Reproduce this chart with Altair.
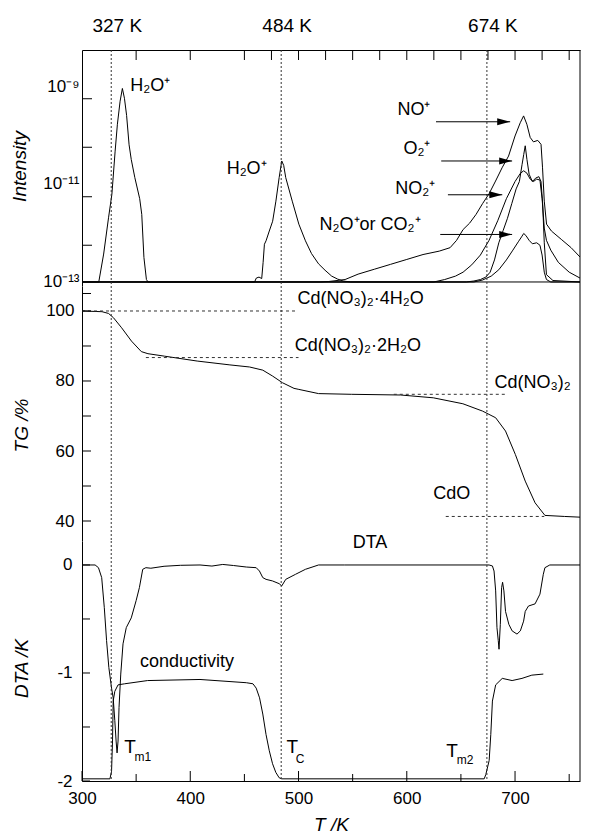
import altair as alt
import pandas as pd

FONT = "Liberation Sans"

# ---------------- data ----------------
# Mass-spec intensities: T (K) and log10(intensity)
h2o_T = [300, 315.5, 320, 324.5, 327.6, 330.6, 332.7, 335.2, 337.3, 339.2, 341.2, 343.5, 345.5, 348.8,
         353.3, 355.2, 357.2, 359.5, 361, 459.4, 461, 463.5, 466, 467.3, 468.5, 470, 473, 476.1, 479.1,
         482.1, 484.5, 486.3, 488.2, 494.2, 500.3, 506.4, 512, 518.5, 524.5, 530.6, 536, 541.2, 548, 760]
h2o_logI = [-13, -13, -12.43, -11.69, -11.21, -10.33, -9.78, -9.31, -9.05, -9.25, -9.6, -10.2, -10.5, -10.87,
            -11.3, -11.62, -12.5, -12.95, -13, -13, -12.92, -12.9, -12.93, -12.6, -12.23, -12.16, -11.96, -11.76, -11.35,
            -10.87, -10.53, -10.62, -10.87, -11.35, -11.82, -12.16, -12.42, -12.63, -12.76, -12.88, -12.94, -12.98, -13, -13]

no_T = [300, 520, 528, 543, 555, 570, 585, 600, 615, 630, 640, 646, 652, 658, 664, 670, 676, 682, 688, 694,
        700, 704.8, 707.9, 710.9, 714, 717, 721, 724, 725.4, 727, 729.1, 733.6, 742.7, 751.8, 760]
no_logI = [-13, -13, -12.99, -12.95, -12.84, -12.74, -12.64, -12.54, -12.44, -12.37, -12.3, -12.15, -11.93, -11.8,
           -11.62, -11.4, -11.2, -10.94, -10.67, -10.43, -10.02, -9.75, -9.61, -9.78, -10.05, -10.14, -10.11, -10.19,
           -10.67, -11.35, -11.82, -11.96, -12.13, -12.3, -12.49]

no2_T = [300, 625, 635, 645, 652, 660, 668, 676, 684, 692, 700, 705, 708, 711, 714, 717, 720, 723, 725, 727,
         729, 733, 740, 750, 760]
no2_logI = [-13, -13, -12.95, -12.88, -12.8, -12.65, -12.45, -12.15, -11.75, -11.3, -10.95, -10.78, -10.73, -10.78,
            -10.9, -10.95, -10.9, -10.92, -11.3, -11.9, -12.15, -12.35, -12.6, -12.8, -12.92]

o2_T = [300, 655, 662, 668, 673, 677, 681, 685, 689, 693, 697, 701, 704, 706.5, 708, 709.4, 711, 713, 716, 719,
        722, 724, 725.5, 727, 729, 735, 760]
o2_logI = [-13, -13, -12.98, -12.95, -12.9, -12.8, -12.55, -12.2, -11.95, -11.7, -11.4, -11.1, -10.95, -10.6,
           -10.4, -10.22, -10.5, -10.8, -10.95, -10.88, -10.85, -10.95, -11.4, -12.2, -12.85, -12.97, -13]

n2o_T = [300, 662, 670, 678, 685, 692, 698, 703, 706, 708, 710, 713, 716, 720, 723, 725, 727, 729, 733, 760]
n2o_logI = [-13, -13, -12.96, -12.88, -12.75, -12.55, -12.35, -12.18, -12.08, -12.01, -12.05, -12.15, -12.22,
            -12.2, -12.25, -12.45, -12.8, -12.95, -13, -13]

# TG (%)
tg_T = [300, 318.5, 324.5, 329, 336.6, 345.7, 354.8, 360.9, 376.1, 406.4, 436.6, 454.8, 467, 476.1, 485.2,
        495.8, 500.3, 518.5, 548.8, 594.3, 624.5, 651.8, 670, 682.1, 691.2, 700.3, 709.4, 718.5, 727.6, 745.8, 760]
tg_val = [100, 99.8, 99.3, 98.1, 95.2, 91.4, 88.4, 87.8, 87.1, 85.7, 84.6, 84.0, 83.1, 81.4, 79.5,
          77.9, 77.6, 76.4, 76.2, 76.0, 75.2, 73.5, 71.4, 69.5, 65.7, 59.0, 51.4, 45.2, 41.6, 41.3, 41.1]

# DTA (K)
dta_T = [300, 312.1, 315.2, 318.2, 320.6, 322.7, 324.8, 327.3, 328.8, 330.3, 331.5, 332.4, 333.3, 334.2, 335.8,
         337.9, 340.9, 345.5, 350, 353, 356.1, 359, 363.6, 375.8, 390.9, 409, 420, 430, 440, 451.8, 460.9, 463.9,
         467, 470, 476, 482.1, 484.5, 488.2, 497.3, 506.4, 518.5, 542.7, 676, 679.1, 680.6, 682.1, 683.3, 684.5,
         685.2, 686.4, 687.6, 688.5, 689.7, 691.2, 694.3, 697.3, 701.8, 704.9, 707.9, 709.4, 712.4, 718.5, 723,
         726.1, 727.6, 732.1, 760]
dta_val = [0, 0, -0.025, -0.117, -0.395, -0.70, -0.95, -1.14, -1.23, -1.44, -1.63, -1.74, -1.63, -1.32, -1.01,
           -0.73, -0.58, -0.49, -0.33, -0.21, -0.04, -0.025, -0.03, -0.012, -0.003, 0, -0.01, 0.005, -0.005, -0.019,
           -0.025, -0.056, -0.117, -0.133, -0.148, -0.173, -0.194, -0.133, -0.086, -0.04, 0, 0, 0, -0.009, -0.056,
           -0.24, -0.58, -0.70, -0.78, -0.55, -0.21, -0.16, -0.24, -0.43, -0.55, -0.61, -0.64, -0.61, -0.52, -0.43,
           -0.38, -0.36, -0.27, -0.086, -0.025, 0, 0]

# conductivity (drawn on the DTA axis)
cond_T = [300, 325.8, 327.3, 328.2, 328.8, 330.3, 333.3, 339.4, 360.6, 409, 451.8, 457.9, 460.9, 464, 467, 470,
          473, 476, 479, 482.1, 484.5, 671.5, 673, 676.1, 677.6, 679.1, 682.1, 688.2, 697.3, 706.4, 715.5, 726.1]
cond_val = [-1.98, -1.98, -1.91, -1.63, -1.26, -1.17, -1.11, -1.10, -1.07, -1.06, -1.09, -1.10, -1.14, -1.23,
            -1.38, -1.57, -1.72, -1.84, -1.92, -1.97, -1.98, -1.98, -1.94, -1.81, -1.57, -1.26, -1.11, -1.05,
            -1.07, -1.05, -1.02, -1.01]

# characteristic temperatures
char_T = [327, 484, 674]
char_text = ["327 K", "484 K", "674 K"]

# TG reference levels (dashed)
lvl_x1 = [300, 359, 588, 636]
lvl_x2 = [497, 500, 691, 727]
lvl_y = [100, 86.7, 76.2, 41.3]

# TG phase labels
phase_text = ["Cd(NO₃)₂·4H₂O", "Cd(NO₃)₂·2H₂O", "Cd(NO₃)₂", "CdO"]
phase_T = [499, 496.5, 681, 624.5]
phase_y = [103.4, 90, 79.5, 47.7]

# intensity labels
h2o_lab_T = [344.5, 433.6]
h2o_lab_logI = [-9.0, -10.69]
sp_text = ["NO⁺", "O₂⁺", "NO₂⁺", "N₂O⁺or CO₂⁺"]
sp_T = [621.8, 621.8, 626.4, 612.7]
sp_logI = [-9.49, -10.29, -11.1, -11.84]
arr_x1 = [627, 631.8, 638, 630.9]
arr_x2 = [695.5, 697.3, 688.2, 697.3]
arr_logI = [-9.73, -10.53, -11.22, -12.03]

# DTA panel labels
dta_lab_text = ["DTA", "conductivity"]
dta_lab_T = [550, 353.6]
dta_lab_y = [0.2, -0.9]
tlab_T = [339, 489, 636.4]
tlab_y = [-1.685, -1.685, -1.72]
tsub_text = ["m1", "C", "m2"]
tsub_T = [348.5, 497.5, 646.2]
tsub_y = [-1.78, -1.8, -1.81]

# axis ticks
top_ticks = [350, 400, 450, 475, 500, 525, 550, 575, 600, 625, 650, 675, 700, 725, 750]
bot_major = [300, 400, 500, 600, 700]
bot_minor = [350, 450, 550, 650, 750]
int_ticks_log = [-9.26, -10.25, -11.26, -12.25]
tg_ticks = [40, 50, 60, 70, 80, 90, 100, 105]
dta_ticks = [0, -0.5, -1, -1.5, -2]

# ---------------- layout ----------------
W = 498
H1, H2, H3 = 236, 255, 240
xscale = alt.Scale(domain=[300, 760], nice=False, zero=False)
yint = alt.Scale(type="log", domain=[10 ** -13.082, 10 ** -8.265], nice=False)
ytg = alt.Scale(domain=[34.29, 107.14], nice=False, zero=False)
ydta = alt.Scale(domain=[-2, 0.222], nice=False, zero=False)


def series_df(pairs):
    rows = []
    for name, xs, ys in pairs:
        assert len(xs) == len(ys), name
        for i, (a, b) in enumerate(zip(xs, ys)):
            rows.append({"series": name, "i": i, "T": a, "v": b})
    return pd.DataFrame(rows)


def XQ(field):
    return alt.X(field, type="quantitative", scale=xscale)


# ---- top panel: intensity ----
int_df = series_df([("H2O", h2o_T, h2o_logI), ("NO", no_T, no_logI), ("NO2", no2_T, no2_logI),
                    ("O2", o2_T, o2_logI), ("N2O", n2o_T, n2o_logI)])
int_lines = alt.Chart(int_df).transform_calculate(I="pow(10, datum.v)").mark_line(
    color="black", strokeWidth=1, clip=True).encode(
    x=alt.X("T:Q", scale=xscale, axis=alt.Axis(orient="top", labels=False, ticks=False, tickSize=0,
                                               domain=True, domainColor="black", title=None, grid=False)),
    y=alt.Y("I:Q", scale=yint, axis=alt.Axis(
        values=[1e-9, 1e-11, 1e-13], ticks=False, tickSize=0, grid=False, domain=True, domainColor="black",
        labelExpr="datum.value > 5e-10 ? '10⁻⁹' : (datum.value > 5e-12 ? '10⁻¹¹' : '10⁻¹³')",
        labelPadding=3, title="Intensity", titleX=-63, titleY=116, titleBaseline="middle",
        titleAlign="center", titleFontStyle="italic")),
    detail="series:N", order="i:Q")

vline_df = pd.DataFrame({"T": char_T, "txt": char_text})


def vlines():
    return alt.Chart(vline_df).mark_rule(color="#333333", strokeWidth=1, strokeDash=[2, 2]).encode(
        x=XQ("T"))


def right_frame(h):
    return alt.Chart(pd.DataFrame({"a": [0]})).mark_rule(color="black", strokeWidth=1).encode(
        x=alt.value(W), y=alt.value(0), y2=alt.value(h))


char_lab = alt.Chart(vline_df).mark_text(fontSize=19, font=FONT, color="black", dx=6,
                                         baseline="middle", align="center").encode(
    x=XQ("T"), y=alt.value(-24), text="txt:N")

top_tick_layer = alt.Chart(pd.DataFrame({"T": top_ticks})).mark_rule(color="black").encode(
    x=XQ("T"), y=alt.value(0), y2=alt.value(10))

int_tick_layer = alt.Chart(pd.DataFrame({"v": int_ticks_log})).transform_calculate(
    I="pow(10, datum.v)").mark_rule(color="black").encode(
    y=alt.Y("I:Q", scale=yint), x=alt.value(0), x2=alt.value(10))

h2o_lab = alt.Chart(pd.DataFrame({"T": h2o_lab_T, "v": h2o_lab_logI, "txt": ["H₂O⁺", "H₂O⁺"]})).transform_calculate(
    I="pow(10, datum.v)").mark_text(fontSize=18, font=FONT, color="black", align="left", baseline="middle").encode(
    x=XQ("T"), y=alt.Y("I:Q", scale=yint), text="txt:N")

sp_lab = alt.Chart(pd.DataFrame({"T": sp_T, "v": sp_logI, "txt": sp_text})).transform_calculate(
    I="pow(10, datum.v)").mark_text(fontSize=18, font=FONT, color="black", align="right", baseline="middle").encode(
    x=XQ("T"), y=alt.Y("I:Q", scale=yint), text="txt:N")

arr_df = pd.DataFrame({"T": arr_x1, "x2": arr_x2, "v": arr_logI})
arr_lines = alt.Chart(arr_df).transform_calculate(I="pow(10, datum.v)").mark_rule(
    color="black", strokeWidth=1).encode(
    x=XQ("T"), x2="x2:Q", y=alt.Y("I:Q", scale=yint))
arr_heads = alt.Chart(arr_df).transform_calculate(I="pow(10, datum.v)").mark_point(
    shape="M0,0L-4,-1.1L-4,1.1Z", size=42, filled=True, color="black", opacity=1).encode(
    x=XQ("x2"), y=alt.Y("I:Q", scale=yint))

top = alt.layer(int_lines, vlines(), right_frame(H1), char_lab, top_tick_layer, int_tick_layer,
                h2o_lab, sp_lab, arr_lines, arr_heads).properties(width=W, height=H1)

# ---- middle panel: TG ----
tg_df = pd.DataFrame({"T": tg_T, "v": tg_val})
tg_line = alt.Chart(tg_df).mark_line(color="black", strokeWidth=1, clip=True).encode(
    x=alt.X("T:Q", scale=xscale, axis=None),
    y=alt.Y("v:Q", scale=ytg, axis=alt.Axis(
        values=[40, 60, 80, 100], ticks=False, tickSize=0, grid=False, domain=True, domainColor="black",
        labelPadding=8, title="TG /%", titleX=-61, titleY=139, titleBaseline="middle", titleAlign="center",
        titleFontStyle="italic")))
lvl = alt.Chart(pd.DataFrame({"T": lvl_x1, "x2": lvl_x2, "v": lvl_y})).mark_rule(
    color="#333333", strokeWidth=1, strokeDash=[3, 3]).encode(
    x=alt.X("T:Q", scale=xscale, axis=None), x2="x2:Q", y=alt.Y("v:Q", scale=ytg))
phase_lab = alt.Chart(pd.DataFrame({"T": phase_T, "v": phase_y, "txt": phase_text})).mark_text(
    fontSize=18, font=FONT, color="black", align="left", baseline="middle").encode(
    x=alt.X("T:Q", scale=xscale, axis=None), y=alt.Y("v:Q", scale=ytg), text="txt:N")
tg_tick_layer = alt.Chart(pd.DataFrame({"v": tg_ticks})).mark_rule(color="black").encode(
    y=alt.Y("v:Q", scale=ytg), x=alt.value(0), x2=alt.value(9))
tg_vlines = alt.Chart(vline_df).mark_rule(color="#333333", strokeWidth=1, strokeDash=[2, 2]).encode(
    x=alt.X("T:Q", scale=xscale, axis=None))

mid = alt.layer(tg_line, lvl, tg_vlines, right_frame(H2), phase_lab, tg_tick_layer).properties(width=W, height=H2)

# ---- bottom panel: DTA + conductivity ----
dta_df = series_df([("DTA", dta_T, dta_val), ("cond", cond_T, cond_val)])
dta_lines = alt.Chart(dta_df).mark_line(color="black", strokeWidth=1, clip=True).encode(
    x=alt.X("T:Q", scale=xscale, axis=alt.Axis(
        values=bot_major, ticks=False, tickSize=0, grid=False, domain=True, domainColor="black",
        labelPadding=9, labelFlush=False, title="T /K", titleX=W / 2, titleY=43, titleBaseline="middle",
        titleAlign="center", titleFontStyle="italic")),
    y=alt.Y("v:Q", scale=ydta, axis=alt.Axis(
        values=[0, -1, -2], ticks=False, tickSize=0, grid=False, domain=True, domainColor="black",
        labelExpr="datum.value == 0 ? '0' : (datum.value == -1 ? '-1' : '-2')",
        labelPadding=10, title="DTA /K", titleX=-61, titleY=127, titleBaseline="middle", titleAlign="center",
        titleFontStyle="italic")),
    detail="series:N", order="i:Q")
dta_lab = alt.Chart(pd.DataFrame({"T": dta_lab_T, "v": dta_lab_y, "txt": dta_lab_text})).mark_text(
    fontSize=18, font=FONT, color="black", align="left", baseline="middle").encode(
    x=XQ("T"), y=alt.Y("v:Q", scale=ydta), text="txt:N")
t_lab = alt.Chart(pd.DataFrame({"T": tlab_T, "v": tlab_y, "txt": ["T", "T", "T"]})).mark_text(
    fontSize=19, font=FONT, color="black", align="left", baseline="middle").encode(
    x=XQ("T"), y=alt.Y("v:Q", scale=ydta), text="txt:N")
t_sub = alt.Chart(pd.DataFrame({"T": tsub_T, "v": tsub_y, "txt": tsub_text})).mark_text(
    fontSize=12, font=FONT, color="black", align="left", baseline="middle").encode(
    x=XQ("T"), y=alt.Y("v:Q", scale=ydta), text="txt:N")
dta_tick_layer = alt.Chart(pd.DataFrame({"v": dta_ticks})).mark_rule(color="black").encode(
    y=alt.Y("v:Q", scale=ydta), x=alt.value(0), x2=alt.value(8))
bmaj = alt.Chart(pd.DataFrame({"T": bot_major})).mark_rule(color="black").encode(
    x=XQ("T"), y=alt.value(H3), y2=alt.value(H3 - 10))
bmin = alt.Chart(pd.DataFrame({"T": bot_minor})).mark_rule(color="black").encode(
    x=XQ("T"), y=alt.value(H3), y2=alt.value(H3 - 7))

bot = alt.layer(dta_lines, vlines(), right_frame(H3), dta_lab, t_lab, t_sub, dta_tick_layer, bmaj, bmin
                ).properties(width=W, height=H3)

chart = alt.vconcat(top, mid, bot, spacing=0, bounds="flush").configure_view(stroke=None).configure_axis(
    labelFont=FONT, titleFont=FONT, labelColor="black", titleColor="black", labelFontSize=17,
    titleFontSize=19, titleFontWeight="normal", domainWidth=1
).properties(padding={"left": 2, "top": 9, "right": 0, "bottom": 0}, background="white")

chart.save("out.html", embed_options={"renderer": "svg", "actions": False})
